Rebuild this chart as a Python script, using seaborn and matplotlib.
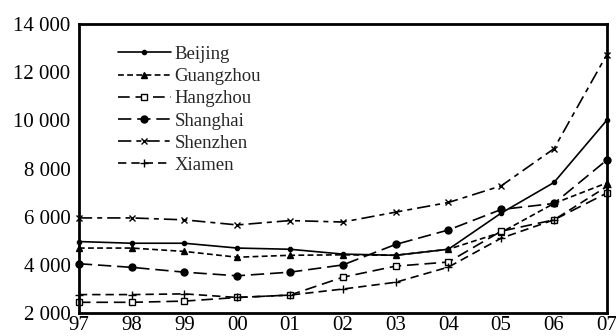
import matplotlib
matplotlib.use("Agg")
import numpy as np
import pandas as pd
import matplotlib.pyplot as plt
import seaborn as sns

# -------------------------------------------------------------------------
# Data (average price, 1997-2007)
# -------------------------------------------------------------------------
years = [1997, 1998, 1999, 2000, 2001, 2002, 2003, 2004, 2005, 2006, 2007]
year_labels = ["97", "98", "99", "00", "01", "02", "03", "04", "05", "06", "07"]

beijing = [4970, 4900, 4900, 4700, 4650, 4450, 4400, 4650, 6150, 7420, 10000]
guangzhou = [4700, 4700, 4560, 4320, 4400, 4420, 4400, 4650, 5350, 6550, 7400]
hangzhou = [2450, 2450, 2500, 2650, 2750, 3490, 3950, 4120, 5400, 5870, 6980]
shanghai = [4050, 3900, 3700, 3550, 3700, 4000, 4850, 5450, 6300, 6550, 8350]
shenzhen = [5950, 5950, 5870, 5660, 5840, 5780, 6190, 6590, 7280, 8820, 12720]
xiamen = [2770, 2770, 2800, 2650, 2750, 3000, 3280, 3910, 5110, 5870, 7250]

cities = ["Beijing", "Guangzhou", "Hangzhou", "Shanghai", "Shenzhen", "Xiamen"]
series = [beijing, guangzhou, hangzhou, shanghai, shenzhen, xiamen]

y_ticks = [2000, 4000, 6000, 8000, 10000, 12000, 14000]
y_tick_labels = ["2 000", "4 000", "6 000", "8 000", "10 000", "12 000", "14 000"]

# line look for each city: (linestyle, marker, marker size, marker face)
styles = {
    "Beijing":   ("-",               "o", 3.0, "black"),
    "Guangzhou": ((0, (3.5, 2)),     "^", 4.0, "black"),
    "Hangzhou":  ((0, (7, 3.5)),     "s", 4.0, "white"),
    "Shanghai":  ((0, (8, 3.5)),     "o", 5.0, "black"),
    "Shenzhen":  ((0, (8, 3, 3, 3)), "x", 5.0, "black"),
    "Xiamen":    ((0, (5, 3)),       "+", 6.0, "black"),
}

sns.set_style("white")
plt.rcParams["font.family"] = ["Liberation Serif", "DejaVu Serif"]

fig = plt.figure(figsize=(6.16, 3.36), dpi=100)
ax = fig.add_axes([0.128, 0.068, 0.857, 0.861])

for city, vals in zip(cities, series):
    ls, mk, ms, mfc = styles[city]
    df = pd.DataFrame({"year": years, "value": vals})
    sns.lineplot(
        data=df, x="year", y="value", ax=ax, color="black",
        linestyle=ls, marker=mk, markersize=ms, markerfacecolor=mfc,
        markeredgecolor="black", markeredgewidth=1.0, linewidth=1.2,
        label=city, clip_on=False,
    )

ax.set_xlim(years[0], years[-1])
ax.set_ylim(2000, 14000)
ax.set_xticks(years)
ax.set_xticklabels(year_labels)
ax.set_yticks(y_ticks)
ax.set_yticklabels(y_tick_labels)
ax.set_xlabel("")
ax.set_ylabel("")

ax.tick_params(axis="both", direction="in", length=5, width=1.3,
               labelsize=15, colors="black")
ax.tick_params(axis="y", pad=6)
ax.tick_params(axis="x", pad=2)
for side in ["left", "right", "top", "bottom"]:
    ax.spines[side].set_visible(True)
    ax.spines[side].set_color("black")
    ax.spines[side].set_linewidth(2)

leg = ax.legend(loc="upper left", bbox_to_anchor=(0.06, 0.95), frameon=False,
                fontsize=13.5, handlelength=2.8, handletextpad=0.2,
                labelspacing=0.27, borderaxespad=0)

plt.savefig("out.png", dpi=100)
